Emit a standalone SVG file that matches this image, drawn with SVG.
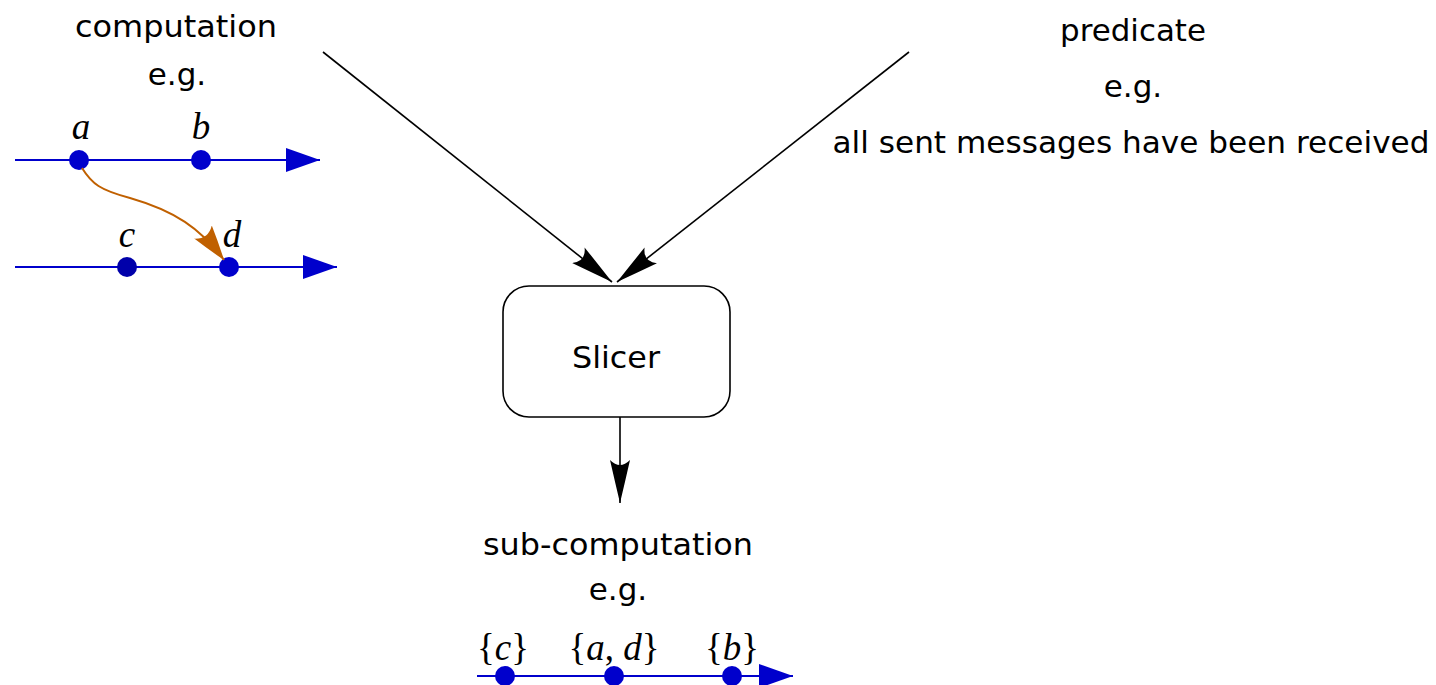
<svg xmlns="http://www.w3.org/2000/svg" width="1436" height="685" viewBox="0 0 1436 685">
<style>
.t{font-family:"DejaVu Sans",sans-serif;font-size:31px;fill:#000;text-anchor:middle}
.m{font-family:"Liberation Serif",serif;font-style:italic;font-size:37px;fill:#000;text-anchor:middle}
.mr{font-family:"Liberation Serif",serif;font-size:37px;fill:#000;text-anchor:middle}
.tl{stroke:#0000CC;stroke-width:2;fill:none}
.dot{fill:#0000CC}
.k{stroke:#000;stroke-width:1.6;fill:none}
</style>
<defs>
<marker id="ka" viewBox="0 0 44 22" refX="43" refY="11" markerWidth="44" markerHeight="22" markerUnits="userSpaceOnUse" orient="auto">
<path d="M0,1 Q22,6 43,11 Q22,16 0,21 Q10,11 0,1 Z" fill="#000"/>
</marker>
<marker id="ba" viewBox="0 0 34 24" refX="34" refY="12" markerWidth="34" markerHeight="24" markerUnits="userSpaceOnUse" orient="auto">
<path d="M0,0 L34,12 L0,24 Z" fill="#0000CC"/>
</marker>
<marker id="oa" viewBox="0 0 36 24" refX="35" refY="12" markerWidth="36" markerHeight="24" markerUnits="userSpaceOnUse" orient="auto">
<path d="M0,1 Q18,6 35,12 Q18,18 0,23 Q9,12 0,1 Z" fill="#C06000"/>
</marker>
</defs>
<g id="computation">
<text class="t" x="176" y="37" textLength="202" lengthAdjust="spacingAndGlyphs">computation</text>
<text class="t" x="177" y="85">e.g.</text>
<line class="tl" x1="15" y1="160" x2="320" y2="160" marker-end="url(#ba)"/>
<line class="tl" x1="15" y1="267" x2="337" y2="267" marker-end="url(#ba)"/>
<circle class="dot" cx="79" cy="160" r="10"/>
<circle class="dot" cx="201" cy="160" r="10"/>
<circle cx="127" cy="267" r="10" fill="#0000AA"/>
<circle class="dot" cx="229" cy="267" r="10"/>
<text class="m" x="81" y="139">a</text>
<text class="m" x="201" y="139">b</text>
<text class="m" x="127" y="247">c</text>
<text class="m" x="232" y="247">d</text>
<path d="M82,168 C92,184 100,190 130,198 C175,211 200,228 224,260" stroke="#C06000" stroke-width="2" fill="none" marker-end="url(#oa)"/>
</g>
<g id="predicate">
<text class="t" x="1133" y="41" textLength="146" lengthAdjust="spacingAndGlyphs">predicate</text>
<text class="t" x="1133" y="97">e.g.</text>
<text class="t" x="1131" y="153" textLength="597" lengthAdjust="spacingAndGlyphs">all sent messages have been received</text>
</g>
<g id="slicer">
<rect x="503" y="286" width="227" height="131" rx="26" ry="26" fill="#fff" stroke="#000" stroke-width="1.6"/>
<text class="t" x="616" y="368" textLength="88" lengthAdjust="spacingAndGlyphs">Slicer</text>
</g>
<g id="subcomputation">
<text class="t" x="618" y="555" textLength="270" lengthAdjust="spacingAndGlyphs">sub-computation</text>
<text class="t" x="618" y="600">e.g.</text>
<line class="tl" x1="477" y1="676" x2="793" y2="676" marker-end="url(#ba)"/>
<circle class="dot" cx="505" cy="676" r="10"/>
<circle class="dot" cx="614" cy="676" r="10"/>
<circle class="dot" cx="732" cy="676" r="10"/>
<text class="mr" x="503" y="660">{<tspan font-style="italic">c</tspan>}</text>
<text class="mr" x="614" y="660">{<tspan font-style="italic">a</tspan>, <tspan font-style="italic">d</tspan>}</text>
<text class="mr" x="732" y="660">{<tspan font-style="italic">b</tspan>}</text>
</g>
<g id="connectors">
<line class="k" x1="323" y1="52" x2="612" y2="282" marker-end="url(#ka)"/>
<line class="k" x1="909" y1="52" x2="617" y2="282" marker-end="url(#ka)"/>
<line class="k" x1="620" y1="417" x2="620" y2="503" marker-end="url(#ka)"/>
</g>
</svg>
